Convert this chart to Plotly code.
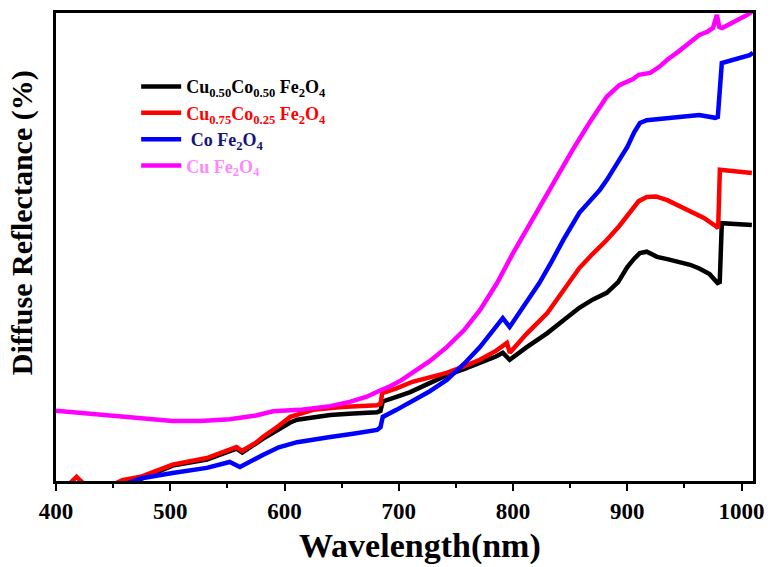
import plotly.graph_objects as go

# Wavelength (nm) / diffuse reflectance (arbitrary %, axis unlabeled)
cu50_x = [455, 475, 502, 532, 558, 563, 581, 595, 605, 611, 625, 640, 660, 681, 684, 686, 698, 710, 726, 742,
          757, 771, 785, 791, 797, 812, 830, 845, 858, 870, 882, 892, 900, 906, 911, 917, 926, 935, 945, 955,
          963, 972, 979, 980.9, 982.7, 1009]
cu50_y = [-0.5, 0.5, 3.3, 4.6, 6.9, 6.1, 9.0, 11.2, 12.5, 13.1, 13.7, 14.1, 14.4, 14.7, 15.0, 17.0, 18.0, 19.0,
          20.8, 22.6, 23.9, 25.2, 26.6, 27.4, 25.9, 28.6, 31.6, 34.5, 37.0, 38.8, 40.2, 42.5, 45.7, 47.5, 48.7,
          49.0, 47.9, 47.4, 46.9, 46.2, 45.4, 44.2, 42.3, 42.5, 55.1, 54.7]

cu75_x = [410, 418, 426, 440, 458, 474, 502, 532, 558, 562.7, 575, 581, 595, 605, 625, 650, 681, 684, 685.5,
          698, 712, 726, 742, 757, 771, 785, 794.6, 797.2, 812, 830, 845, 858, 870, 882, 893, 902, 910, 917,
          925, 935, 949, 955, 967, 978.4, 979.5, 981, 1009]
cu75_y = [-1, 0.9, -1, -2, 0.2, 0.9, 3.5, 4.9, 7.26, 6.4, 8.2, 9.4, 11.8, 13.7, 15.2, 15.8, 16.2, 16.5, 18.8,
          19.8, 21.2, 22.2, 23.1, 24.5, 25.9, 27.8, 29.5, 27.4, 31.5, 35.9, 41.0, 45.5, 48.6, 51.5, 54.5, 57.5,
          59.8, 60.7, 60.8, 60.0, 58.4, 57.5, 56.2, 54.3, 54.0, 66.5, 65.8]

co_x = [462, 475, 502, 532, 552, 561, 581, 595, 611, 625, 640, 660, 681, 684, 686, 698, 710, 726, 742, 757,
        771, 784, 791, 797, 806, 815, 823, 834, 844, 858, 868, 876, 882, 893, 900, 906, 911, 917, 940, 963,
        977, 979.2, 982.7, 1007, 1010]
co_y = [-0.5, 0.6, 1.7, 2.8, 4.06, 3.0, 5.56, 7.2, 8.3, 8.9, 9.4, 10.1, 10.9, 11.5, 13.7, 15.2, 16.9, 19.0,
        21.6, 25.0, 28.6, 32.4, 34.8, 32.9, 36.2, 39.3, 42.3, 47.0, 51.5, 57.3, 60.0, 62.2, 64.3, 68.6, 71.4,
        74.5, 76.5, 77.1, 77.6, 78.2, 77.6, 77.8, 89.3, 91.0, 91.5]

cu_x = [400, 440, 480, 502, 526, 552, 575, 590, 613, 640, 657, 672, 684, 692, 702, 712, 727, 742, 757, 771,
        786, 800, 812, 823, 838, 852, 867, 882, 893, 905, 910, 920, 928, 935, 945, 955, 963, 970, 975, 978.4,
        980.5, 983, 995, 1005, 1010]
cu_y = [15.0, 14.2, 13.2, 12.8, 12.8, 13.2, 14.0, 14.9, 15.2, 16.0, 16.9, 18.0, 19.4, 20.2, 21.5, 23.1, 25.6,
        28.6, 32.2, 36.5, 42.3, 48.7, 53.8, 58.5, 64.8, 70.7, 76.6, 82.1, 84.6, 85.9, 86.8, 87.2, 88.5, 90.0,
        91.8, 93.6, 95.3, 96.0, 96.8, 99.6, 97.0, 96.8, 98.2, 99.6, 100.5]

names = [
    "<b>Cu<sub>0.50</sub>Co<sub>0.50</sub> Fe<sub>2</sub>O<sub>4</sub></b>",
    "<b><span style='color:#ff0000'>Cu<sub>0.75</sub>Co<sub>0.25</sub> Fe<sub>2</sub>O<sub>4</sub></span></b>",
    "<b><span style='color:#14147a'> Co Fe<sub>2</sub>O<sub>4</sub></span></b>",
    "<b><span style='color:#ff88ff'>Cu Fe<sub>2</sub>O<sub>4</sub></span></b>",
]
colors = ["#000000", "#ff0000", "#0000ff", "#ff00ff"]
xs = [cu50_x, cu75_x, co_x, cu_x]
ys = [cu50_y, cu75_y, co_y, cu_y]

fig = go.Figure()
for x, y, n, c in zip(xs, ys, names, colors):
    fig.add_trace(go.Scatter(x=x, y=y, mode="lines", name=n,
                             line=dict(color=c, width=4.5)))

serif = "Liberation Serif, Times New Roman, serif"
fig.update_layout(
    width=772, height=567,
    margin=dict(l=56, r=19, t=13, b=86),
    paper_bgcolor="white", plot_bgcolor="white",
    font=dict(family=serif, color="black"),
    legend=dict(x=0.115, y=0.882, xanchor="left", yanchor="top",
                bgcolor="rgba(0,0,0,0)", font=dict(family=serif, size=18, color="black"),
                itemwidth=40, tracegroupgap=0),
    xaxis=dict(range=[400, 1010], tickvals=[400, 500, 600, 700, 800, 900, 1000],
               ticks="outside", ticklen=7, tickwidth=2, tickcolor="black",
               minor=dict(tickvals=[450, 550, 650, 750, 850, 950], ticks="outside", ticklen=4,
                          tickwidth=2, tickcolor="black"),
               showline=True, linecolor="black", linewidth=3, mirror=True,
               showgrid=False, zeroline=False, automargin=False,
               tickfont=dict(family=serif, size=23, color="black", weight="bold")),
    yaxis=dict(range=[0, 100], showticklabels=False, ticks="",
               showline=True, linecolor="black", linewidth=3, mirror=True,
               showgrid=False, zeroline=False, automargin=False),
    annotations=[
        dict(text="Wavelength(nm)", xref="paper", yref="paper", x=0.522, y=-0.1835,
             xanchor="center", yanchor="bottom", showarrow=False,
             font=dict(family=serif, size=34, weight="bold", color="black")),
        dict(text="Diffuse Reflectance (%)", xref="paper", yref="paper", x=-0.0488, y=0.553,
             xanchor="center", yanchor="middle", textangle=-90, showarrow=False,
             font=dict(family=serif, size=30, weight="bold", color="black")),
    ],
)
fig.write_html("out.html")
